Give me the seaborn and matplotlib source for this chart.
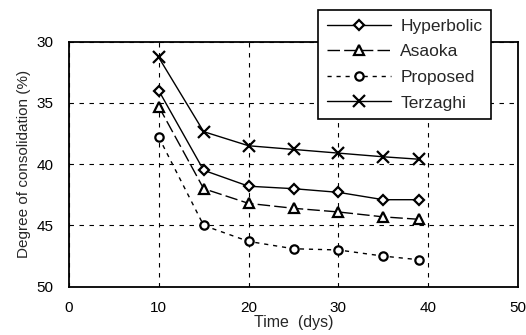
import matplotlib
matplotlib.use("Agg")
import matplotlib.pyplot as plt
import numpy as np
import pandas as pd
import seaborn as sns

# time (days) and degree of consolidation (%)
time_days = [10, 15, 20, 25, 30, 35, 39]
hyperbolic = [34.0, 40.5, 41.8, 42.0, 42.3, 42.9, 42.9]
asaoka = [35.3, 42.0, 43.2, 43.6, 43.9, 44.3, 44.5]
proposed = [37.8, 45.0, 46.3, 46.9, 47.0, 47.5, 47.8]
terzaghi = [31.3, 37.35, 38.5, 38.8, 39.1, 39.4, 39.6]

x_ticks = [0, 10, 20, 30, 40, 50]
y_ticks = [30, 35, 40, 45, 50]

sns.set_theme(style="white")
plt.rcParams["font.family"] = ["Liberation Sans", "DejaVu Sans"]

fig = plt.figure(figsize=(5.26, 3.35), dpi=100)
ax = fig.add_axes([0.131, 0.144, 0.854, 0.732])

series = [
    ("Hyperbolic", hyperbolic, "D", (None, None), 5),
    ("Asaoka", asaoka, "^", (9, 3), 6.5),
    ("Proposed", proposed, "o", (3, 3.5), 6),
    ("Terzaghi", terzaghi, "x", (None, None), 8),
]

for name, vals, mk, dash, ms in series:
    df = pd.DataFrame({"t": time_days, "d": vals})
    sns.lineplot(data=df, x="t", y="d", ax=ax, color="black", linewidth=1.0,
                 marker=mk, markersize=ms, markerfacecolor="white",
                 markeredgecolor="black", markeredgewidth=1.6, label=name)
    line = ax.get_lines()[-1]
    if dash[0] is not None:
        line.set_dashes(dash)

ax.set_xlim(0, 50)
ax.set_ylim(50, 30)
ax.set_xticks(x_ticks)
ax.set_yticks(y_ticks)
ax.grid(True, color="black", linestyle=(0, (4, 5)), linewidth=0.8)
for sp in ax.spines.values():
    sp.set_color("black")
    sp.set_linewidth(1.3)
ax.tick_params(axis="both", length=0, labelsize=11, colors="black")
ax.tick_params(axis="y", pad=11)
ax.tick_params(axis="x", pad=10)
ax.set_xlabel("Time  (dys)", fontsize=11.5, labelpad=0)
ax.set_ylabel("Degree of consolidation (%)", fontsize=11, labelpad=4)

leg = ax.legend(loc="upper left", bbox_to_anchor=(318 / 526, 1 - 10 / 335),
                bbox_transform=fig.transFigure, frameon=True, fancybox=False,
                framealpha=1, edgecolor="black", fontsize=12.5,
                handlelength=3.7, borderpad=0.5, labelspacing=0.6,
                handletextpad=0.55, borderaxespad=0)
leg.get_frame().set_linewidth(1.2)

fig.savefig("out.png", dpi=100)
